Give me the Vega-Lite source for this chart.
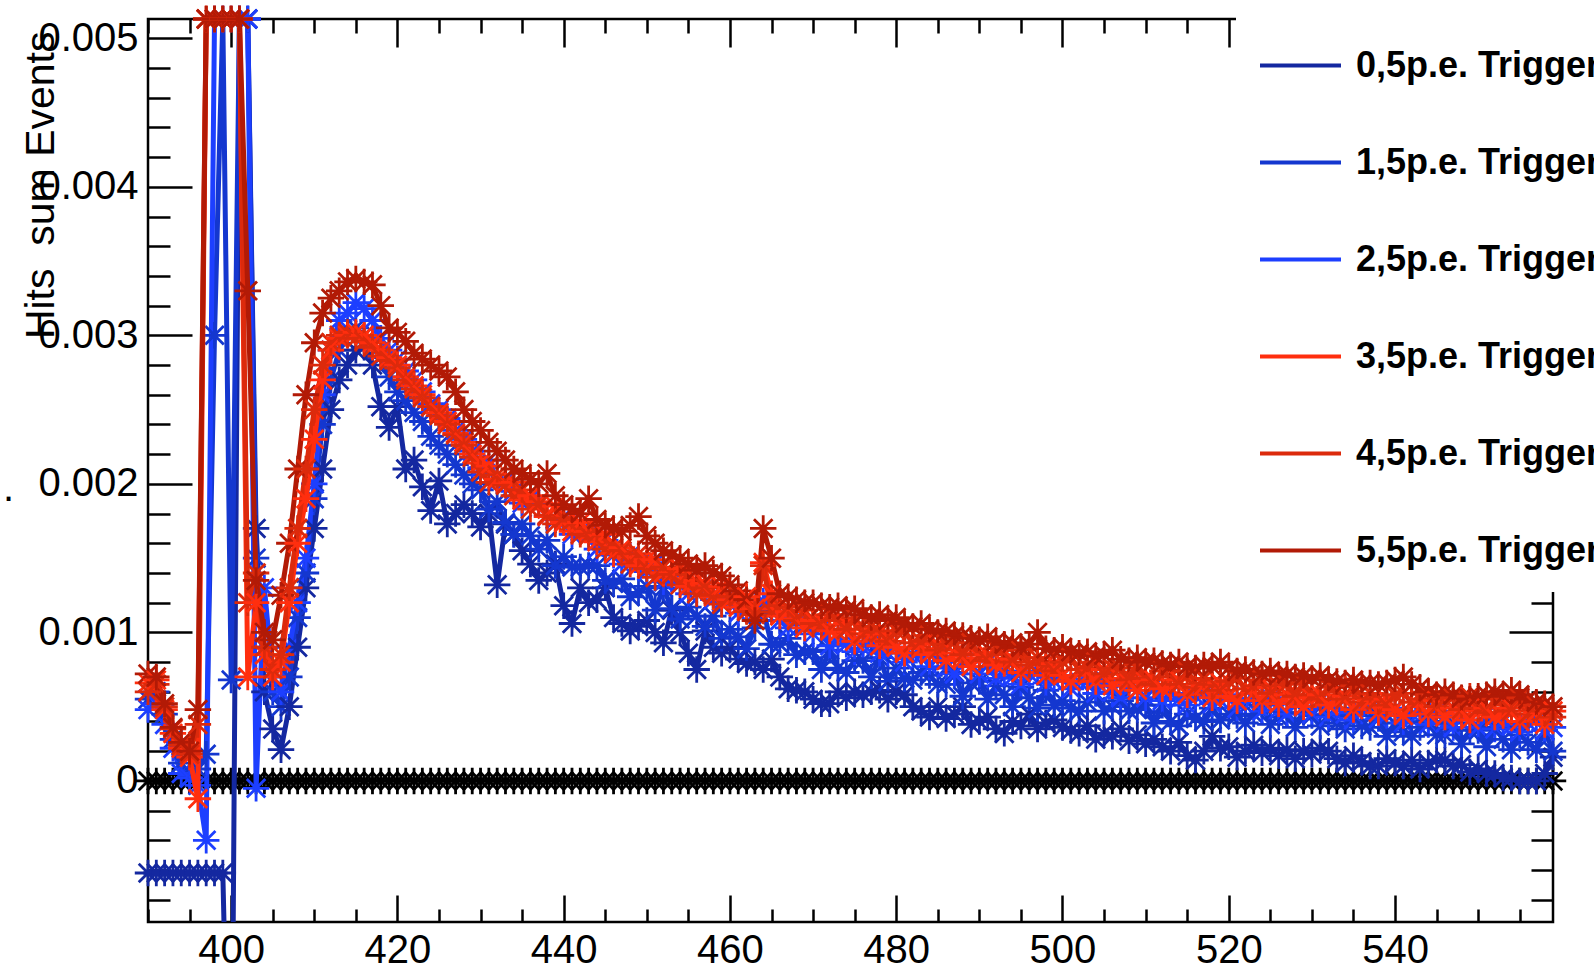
{
"$schema": "https://vega.github.io/schema/vega-lite/v6.json",
"width": 1405, "height": 903,
"autosize": {"type": "none"},
"padding": {"left": 148, "top": 19, "right": 41, "bottom": 47},
"background": "white",
"datasets": {
"names": [
{"k":"a","name":"0,5p.e. Trigger"},{"k":"b","name":"1,5p.e. Trigger"},{"k":"c","name":"2,5p.e. Trigger"},
{"k":"d","name":"3,5p.e. Trigger"},{"k":"e","name":"4,5p.e. Trigger"},{"k":"f","name":"5,5p.e. Trigger"}],
"rows": [
{"x":390,"a":-0.00062,"b":0.00055,"c":0.00048,"d":0.00066,"e":0.0006,"f":0.00072,"z":0},
{"x":391,"a":-0.00062,"b":0.0006,"c":0.00052,"d":0.00068,"e":0.00065,"f":0.0007,"z":0},
{"x":392,"a":-0.00062,"b":0.00045,"c":0.00038,"d":0.00048,"e":0.0005,"f":0.00052,"z":0},
{"x":393,"a":-0.00062,"b":0.00028,"c":0.00022,"d":0.00032,"e":0.00035,"f":0.00036,"z":0},
{"x":394,"a":-0.00062,"b":0.00012,"c":0.00005,"d":0.00022,"e":0.00024,"f":0.00026,"z":0},
{"x":395,"a":-0.00062,"b":0.00002,"c":0.00002,"d":0.00016,"e":0.00018,"f":0.0002,"z":0},
{"x":396,"a":-0.00062,"b":0.00008,"c":-0.00003,"d":-0.00012,"e":0.00038,"f":0.00048,"z":0},
{"x":397,"a":-0.00062,"b":0.00018,"c":-0.0004,"d":0.00513,"e":0.00513,"f":0.00513,"z":0},
{"x":398,"a":-0.00062,"b":0.003,"c":0.00513,"d":0.00513,"e":0.00513,"f":0.00513,"z":0},
{"x":399,"a":-0.00062,"b":0.00513,"c":0.00513,"d":0.00513,"e":0.00513,"f":0.00513,"z":0},
{"x":400,"a":-0.003,"b":0.00068,"c":0.00513,"d":0.00513,"e":0.00513,"f":0.00513,"z":0},
{"x":401,"a":0.00513,"b":0.00513,"c":0.00513,"d":0.00513,"e":0.00513,"f":0.00513,"z":0},
{"x":402,"a":0.00513,"b":0.00513,"c":0.00513,"d":0.0007,"e":0.0012,"f":0.0033,"z":0},
{"x":403,"a":0.0017,"b":0.0015,"c":-0.00005,"d":0.0012,"e":0.0014,"f":0.00135,"z":0},
{"x":404,"a":0.0006,"b":0.0009,"c":0.0013,"d":0.00085,"e":0.0009,"f":0.001,"z":0},
{"x":405,"a":0.00035,"b":0.0006,"c":0.0007,"d":0.0007,"e":0.00075,"f":0.00095,"z":0},
{"x":406,"a":0.00021,"b":0.0005,"c":0.0006,"d":0.0008,"e":0.00085,"f":0.00125,"z":0},
{"x":407,"a":0.0005,"b":0.0007,"c":0.0009,"d":0.0012,"e":0.0013,"f":0.0016,"z":0},
{"x":408,"a":0.0009,"b":0.0011,"c":0.0012,"d":0.0016,"e":0.0017,"f":0.0021,"z":0},
{"x":409,"a":0.0013,"b":0.0014,"c":0.0015,"d":0.0019,"e":0.0021,"f":0.0026,"z":0},
{"x":410,"a":0.0017,"b":0.0019,"c":0.002,"d":0.0023,"e":0.0025,"f":0.00295,"z":0},
{"x":411,"a":0.0021,"b":0.0024,"c":0.0026,"d":0.0027,"e":0.0028,"f":0.00315,"z":0},
{"x":412,"a":0.0025,"b":0.0027,"c":0.0029,"d":0.0029,"e":0.00295,"f":0.00325,"z":0},
{"x":413,"a":0.0027,"b":0.0029,"c":0.0031,"d":0.00298,"e":0.003,"f":0.0033,"z":0},
{"x":414,"a":0.0028,"b":0.003,"c":0.00315,"d":0.003,"e":0.00302,"f":0.00336,"z":0},
{"x":415,"a":0.0029,"b":0.00305,"c":0.00322,"d":0.00302,"e":0.00298,"f":0.00338,"z":0},
{"x":416,"a":0.00292,"b":0.003,"c":0.00318,"d":0.003,"e":0.00296,"f":0.00336,"z":0},
{"x":417,"a":0.0028,"b":0.00292,"c":0.0031,"d":0.00295,"e":0.00292,"f":0.00334,"z":0},
{"x":418,"a":0.00252,"b":0.00285,"c":0.00298,"d":0.0029,"e":0.00286,"f":0.0032,"z":0},
{"x":419,"a":0.00238,"b":0.00272,"c":0.0029,"d":0.00285,"e":0.00283,"f":0.00305,"z":0},
{"x":420,"a":0.00252,"b":0.00262,"c":0.00284,"d":0.0028,"e":0.00278,"f":0.00302,"z":0},
{"x":421,"a":0.0021,"b":0.00256,"c":0.00276,"d":0.00272,"e":0.0027,"f":0.00296,"z":0},
{"x":422,"a":0.00216,"b":0.00248,"c":0.0027,"d":0.00266,"e":0.00264,"f":0.00288,"z":0},
{"x":423,"a":0.00198,"b":0.00242,"c":0.00262,"d":0.0026,"e":0.00258,"f":0.00284,"z":0},
{"x":424,"a":0.00182,"b":0.00232,"c":0.00254,"d":0.00252,"e":0.00252,"f":0.0028,"z":0},
{"x":425,"a":0.00202,"b":0.00226,"c":0.0025,"d":0.00248,"e":0.00246,"f":0.00276,"z":0},
{"x":426,"a":0.00173,"b":0.0022,"c":0.00244,"d":0.00242,"e":0.0024,"f":0.00272,"z":0},
{"x":427,"a":0.0018,"b":0.00213,"c":0.00236,"d":0.00234,"e":0.00233,"f":0.00262,"z":0},
{"x":428,"a":0.00186,"b":0.00206,"c":0.0023,"d":0.00228,"e":0.00226,"f":0.0025,"z":0},
{"x":429,"a":0.0018,"b":0.002,"c":0.00222,"d":0.0022,"e":0.00218,"f":0.00242,"z":0},
{"x":430,"a":0.00171,"b":0.00196,"c":0.00211,"d":0.00214,"e":0.00208,"f":0.00236,"z":0},
{"x":431,"a":0.0018,"b":0.00183,"c":0.00216,"d":0.00212,"e":0.00201,"f":0.00228,"z":0},
{"x":432,"a":0.00132,"b":0.00188,"c":0.00202,"d":0.00203,"e":0.00206,"f":0.00222,"z":0},
{"x":433,"a":0.00173,"b":0.00174,"c":0.00202,"d":0.002,"e":0.00199,"f":0.00216,"z":0},
{"x":434,"a":0.00166,"b":0.00166,"c":0.00195,"d":0.00201,"e":0.00192,"f":0.0021,"z":0},
{"x":435,"a":0.00155,"b":0.00173,"c":0.00187,"d":0.00189,"e":0.00196,"f":0.00207,"z":0},
{"x":436,"a":0.00146,"b":0.00165,"c":0.0019,"d":0.00192,"e":0.00183,"f":0.00203,"z":0},
{"x":437,"a":0.00135,"b":0.00156,"c":0.00187,"d":0.00188,"e":0.00186,"f":0.002,"z":0},
{"x":438,"a":0.0014,"b":0.00162,"c":0.00178,"d":0.00178,"e":0.00179,"f":0.00207,"z":0},
{"x":439,"a":0.00146,"b":0.00145,"c":0.00176,"d":0.00185,"e":0.00173,"f":0.00192,"z":0},
{"x":440,"a":0.00118,"b":0.00151,"c":0.00178,"d":0.00174,"e":0.00177,"f":0.00186,"z":0},
{"x":441,"a":0.00106,"b":0.00144,"c":0.00166,"d":0.00168,"e":0.00175,"f":0.00183,"z":0},
{"x":442,"a":0.0013,"b":0.00144,"c":0.00168,"d":0.00174,"e":0.00166,"f":0.0018,"z":0},
{"x":443,"a":0.0012,"b":0.00145,"c":0.00166,"d":0.00168,"e":0.00165,"f":0.0019,"z":0},
{"x":444,"a":0.00122,"b":0.00145,"c":0.00156,"d":0.00161,"e":0.00167,"f":0.00176,"z":0},
{"x":445,"a":0.0013,"b":0.00135,"c":0.00162,"d":0.00166,"e":0.00156,"f":0.00172,"z":0},
{"x":446,"a":0.0011,"b":0.00133,"c":0.00152,"d":0.00153,"e":0.00157,"f":0.0017,"z":0},
{"x":447,"a":0.00106,"b":0.00136,"c":0.00146,"d":0.00157,"e":0.00155,"f":0.00168,"z":0},
{"x":448,"a":0.00101,"b":0.00124,"c":0.00152,"d":0.00151,"e":0.00146,"f":0.00172,"z":0},
{"x":449,"a":0.00104,"b":0.00127,"c":0.00147,"d":0.00145,"e":0.00153,"f":0.00178,"z":0},
{"x":450,"a":0.00108,"b":0.00131,"c":0.00141,"d":0.00149,"e":0.00143,"f":0.00165,"z":0},
{"x":451,"a":0.001,"b":0.00115,"c":0.00147,"d":0.00149,"e":0.00137,"f":0.0016,"z":0},
{"x":452,"a":0.00093,"b":0.0013,"c":0.00134,"d":0.0014,"e":0.00144,"f":0.00155,"z":0},
{"x":453,"a":0.00115,"b":0.00116,"c":0.00138,"d":0.0014,"e":0.00139,"f":0.00152,"z":0},
{"x":454,"a":0.001,"b":0.00109,"c":0.00133,"d":0.00143,"e":0.00132,"f":0.0015,"z":0},
{"x":455,"a":0.00086,"b":0.00117,"c":0.00126,"d":0.00131,"e":0.00139,"f":0.00146,"z":0},
{"x":456,"a":0.00075,"b":0.00111,"c":0.0013,"d":0.00135,"e":0.00126,"f":0.00142,"z":0},
{"x":457,"a":0.00101,"b":0.00104,"c":0.0013,"d":0.00133,"e":0.0013,"f":0.00145,"z":0},
{"x":458,"a":0.0009,"b":0.00111,"c":0.00122,"d":0.00124,"e":0.00125,"f":0.0014,"z":0},
{"x":459,"a":0.00086,"b":0.00096,"c":0.00121,"d":0.00131,"e":0.00119,"f":0.00138,"z":0},
{"x":460,"a":0.0009,"b":0.00102,"c":0.00124,"d":0.00122,"e":0.00124,"f":0.00132,"z":0},
{"x":461,"a":0.00082,"b":0.00097,"c":0.00113,"d":0.00117,"e":0.00124,"f":0.00128,"z":0},
{"x":462,"a":0.00079,"b":0.00089,"c":0.00116,"d":0.00124,"e":0.00114,"f":0.00122,"z":0},
{"x":463,"a":0.0008,"b":0.00103,"c":0.00113,"d":0.00116,"e":0.00112,"f":0.00108,"z":0},
{"x":464,"a":0.00075,"b":0.00115,"c":0.00121,"d":0.00147,"e":0.00145,"f":0.0017,"z":0},
{"x":465,"a":0.00082,"b":0.00092,"c":0.0012,"d":0.00126,"e":0.00114,"f":0.0015,"z":0},
{"x":466,"a":0.0007,"b":0.00092,"c":0.00108,"d":0.00111,"e":0.00118,"f":0.00126,"z":0},
{"x":467,"a":0.00062,"b":0.00096,"c":0.00103,"d":0.00114,"e":0.00117,"f":0.00124,"z":0},
{"x":468,"a":0.00061,"b":0.00085,"c":0.0011,"d":0.00109,"e":0.00108,"f":0.00122,"z":0},
{"x":469,"a":0.0006,"b":0.00087,"c":0.00105,"d":0.00103,"e":0.00115,"f":0.0012,"z":0},
{"x":470,"a":0.00055,"b":0.00087,"c":0.00099,"d":0.00108,"e":0.00106,"f":0.0012,"z":0},
{"x":471,"a":0.00052,"b":0.00075,"c":0.00103,"d":0.00108,"e":0.00105,"f":0.00118,"z":0},
{"x":472,"a":0.00052,"b":0.00088,"c":0.00091,"d":0.00101,"e":0.00112,"f":0.00117,"z":0},
{"x":473,"a":0.0006,"b":0.00076,"c":0.00096,"d":0.001,"e":0.00108,"f":0.00118,"z":0},
{"x":474,"a":0.00056,"b":0.00073,"c":0.00092,"d":0.00106,"e":0.00102,"f":0.00115,"z":0},
{"x":475,"a":0.0006,"b":0.00081,"c":0.00087,"d":0.00094,"e":0.0011,"f":0.00116,"z":0},
{"x":476,"a":0.00058,"b":0.00081,"c":0.00092,"d":0.00099,"e":0.00099,"f":0.00112,"z":0},
{"x":477,"a":0.0006,"b":0.0007,"c":0.00092,"d":0.00099,"e":0.00104,"f":0.0011,"z":0},
{"x":478,"a":0.00061,"b":0.00083,"c":0.00086,"d":0.00091,"e":0.001,"f":0.00112,"z":0},
{"x":479,"a":0.00055,"b":0.00067,"c":0.00086,"d":0.00099,"e":0.00094,"f":0.00108,"z":0},
{"x":480,"a":0.0006,"b":0.00076,"c":0.0009,"d":0.0009,"e":0.00101,"f":0.0011,"z":0},
{"x":481,"a":0.00058,"b":0.00069,"c":0.0008,"d":0.00086,"e":0.00101,"f":0.00106,"z":0},
{"x":482,"a":0.0005,"b":0.00068,"c":0.00085,"d":0.00093,"e":0.00093,"f":0.00104,"z":0},
{"x":483,"a":0.00047,"b":0.00073,"c":0.00085,"d":0.00089,"e":0.00094,"f":0.00106,"z":0},
{"x":484,"a":0.00043,"b":0.00071,"c":0.00077,"d":0.00085,"e":0.00098,"f":0.00102,"z":0},
{"x":485,"a":0.0005,"b":0.00065,"c":0.00084,"d":0.00092,"e":0.00088,"f":0.001,"z":0},
{"x":486,"a":0.00042,"b":0.00065,"c":0.00076,"d":0.00081,"e":0.00092,"f":0.00101,"z":0},
{"x":487,"a":0.00045,"b":0.00073,"c":0.00072,"d":0.00086,"e":0.00093,"f":0.00098,"z":0},
{"x":488,"a":0.0005,"b":0.00057,"c":0.00081,"d":0.00082,"e":0.00085,"f":0.00098,"z":0},
{"x":489,"a":0.00038,"b":0.00066,"c":0.00077,"d":0.00077,"e":0.00093,"f":0.00096,"z":0},
{"x":490,"a":0.0004,"b":0.00067,"c":0.00072,"d":0.00083,"e":0.00085,"f":0.00095,"z":0},
{"x":491,"a":0.00043,"b":0.00055,"c":0.0008,"d":0.00085,"e":0.00081,"f":0.00097,"z":0},
{"x":492,"a":0.00035,"b":0.00064,"c":0.00069,"d":0.00078,"e":0.00089,"f":0.00094,"z":0},
{"x":493,"a":0.00032,"b":0.00058,"c":0.00074,"d":0.00079,"e":0.00085,"f":0.00092,"z":0},
{"x":494,"a":0.0004,"b":0.0005,"c":0.0007,"d":0.00082,"e":0.0008,"f":0.00093,"z":0},
{"x":495,"a":0.00037,"b":0.00063,"c":0.00065,"d":0.00073,"e":0.00088,"f":0.0009,"z":0},
{"x":496,"a":0.00045,"b":0.00056,"c":0.00072,"d":0.00078,"e":0.00078,"f":0.00092,"z":0},
{"x":497,"a":0.00035,"b":0.00049,"c":0.00073,"d":0.00083,"e":0.00083,"f":0.001,"z":0},
{"x":498,"a":0.00039,"b":0.00061,"c":0.00066,"d":0.00071,"e":0.00079,"f":0.00089,"z":0},
{"x":499,"a":0.00041,"b":0.00051,"c":0.00067,"d":0.00079,"e":0.00074,"f":0.00088,"z":0},
{"x":500,"a":0.00036,"b":0.00054,"c":0.00071,"d":0.00071,"e":0.0008,"f":0.0009,"z":0},
{"x":501,"a":0.00034,"b":0.00049,"c":0.00062,"d":0.00067,"e":0.00083,"f":0.00087,"z":0},
{"x":502,"a":0.00032,"b":0.00047,"c":0.00067,"d":0.00075,"e":0.00075,"f":0.00086,"z":0},
{"x":503,"a":0.00037,"b":0.00053,"c":0.00067,"d":0.00071,"e":0.00076,"f":0.00087,"z":0},
{"x":504,"a":0.00028,"b":0.00059,"c":0.00059,"d":0.00067,"e":0.0008,"f":0.00084,"z":0},
{"x":505,"a":0.00032,"b":0.00047,"c":0.00068,"d":0.00075,"e":0.00072,"f":0.00085,"z":0},
{"x":506,"a":0.0003,"b":0.0005,"c":0.0006,"d":0.00064,"e":0.00076,"f":0.00088,"z":0},
{"x":507,"a":0.00035,"b":0.00054,"c":0.00056,"d":0.00069,"e":0.00076,"f":0.00082,"z":0},
{"x":508,"a":0.00027,"b":0.00047,"c":0.00064,"d":0.00066,"e":0.00068,"f":0.00081,"z":0},
{"x":509,"a":0.00031,"b":0.00048,"c":0.00061,"d":0.00061,"e":0.00078,"f":0.00083,"z":0},
{"x":510,"a":0.00025,"b":0.00051,"c":0.00056,"d":0.00067,"e":0.00069,"f":0.0008,"z":0},
{"x":511,"a":0.00028,"b":0.00039,"c":0.00064,"d":0.00068,"e":0.00065,"f":0.00081,"z":0},
{"x":512,"a":0.00023,"b":0.00051,"c":0.00054,"d":0.00062,"e":0.00074,"f":0.00079,"z":0},
{"x":513,"a":0.0002,"b":0.0004,"c":0.00059,"d":0.00063,"e":0.0007,"f":0.00078,"z":0},
{"x":514,"a":0.00026,"b":0.00037,"c":0.00055,"d":0.00068,"e":0.00065,"f":0.0008,"z":0},
{"x":515,"a":0.00017,"b":0.00045,"c":0.00051,"d":0.00058,"e":0.00074,"f":0.00077,"z":0},
{"x":516,"a":0.00014,"b":0.00042,"c":0.00057,"d":0.00063,"e":0.00063,"f":0.00076,"z":0},
{"x":517,"a":0.0002,"b":0.0004,"c":0.00059,"d":0.00064,"e":0.00069,"f":0.00078,"z":0},
{"x":518,"a":0.0003,"b":0.00049,"c":0.00052,"d":0.00056,"e":0.00065,"f":0.00077,"z":0},
{"x":519,"a":0.00022,"b":0.00041,"c":0.00054,"d":0.00066,"e":0.00061,"f":0.0008,"z":0},
{"x":520,"a":0.00023,"b":0.00045,"c":0.00058,"d":0.00057,"e":0.00067,"f":0.00076,"z":0},
{"x":521,"a":0.00016,"b":0.00044,"c":0.00049,"d":0.00054,"e":0.00069,"f":0.00074,"z":0},
{"x":522,"a":0.0002,"b":0.00039,"c":0.00054,"d":0.00062,"e":0.00062,"f":0.00075,"z":0},
{"x":523,"a":0.00024,"b":0.00045,"c":0.00055,"d":0.00059,"e":0.00064,"f":0.00073,"z":0},
{"x":524,"a":0.00019,"b":0.00051,"c":0.00047,"d":0.00054,"e":0.00068,"f":0.00072,"z":0},
{"x":525,"a":0.00022,"b":0.00038,"c":0.00056,"d":0.00063,"e":0.00059,"f":0.00074,"z":0},
{"x":526,"a":0.00017,"b":0.00043,"c":0.00048,"d":0.00052,"e":0.00064,"f":0.00071,"z":0},
{"x":527,"a":0.00021,"b":0.00046,"c":0.00045,"d":0.00058,"e":0.00065,"f":0.00072,"z":0},
{"x":528,"a":0.00015,"b":0.00036,"c":0.00053,"d":0.00054,"e":0.00057,"f":0.0007,"z":0},
{"x":529,"a":0.0002,"b":0.00046,"c":0.0005,"d":0.0005,"e":0.00066,"f":0.00071,"z":0},
{"x":530,"a":0.00018,"b":0.00044,"c":0.00045,"d":0.00056,"e":0.00058,"f":0.00069,"z":0},
{"x":531,"a":0.00022,"b":0.00037,"c":0.00054,"d":0.00058,"e":0.00055,"f":0.00071,"z":0},
{"x":532,"a":0.0002,"b":0.00044,"c":0.00043,"d":0.00051,"e":0.00063,"f":0.00068,"z":0},
{"x":533,"a":0.00015,"b":0.00039,"c":0.00049,"d":0.00053,"e":0.0006,"f":0.00067,"z":0},
{"x":534,"a":0.00012,"b":0.00035,"c":0.00045,"d":0.00057,"e":0.00055,"f":0.00066,"z":0},
{"x":535,"a":0.00017,"b":0.00044,"c":0.00041,"d":0.00048,"e":0.00064,"f":0.00068,"z":0},
{"x":536,"a":0.00013,"b":0.00037,"c":0.00047,"d":0.00053,"e":0.00053,"f":0.00065,"z":0},
{"x":537,"a":0.0001,"b":0.00036,"c":0.00049,"d":0.00054,"e":0.00059,"f":0.00066,"z":0},
{"x":538,"a":0.0001,"b":0.00044,"c":0.00042,"d":0.00046,"e":0.00055,"f":0.00065,"z":0},
{"x":539,"a":0.00015,"b":0.0003,"c":0.00044,"d":0.00055,"e":0.00051,"f":0.00066,"z":0},
{"x":540,"a":0.00012,"b":0.00039,"c":0.00049,"d":0.00048,"e":0.00058,"f":0.00068,"z":0},
{"x":541,"a":0.0001,"b":0.00033,"c":0.00039,"d":0.00044,"e":0.00059,"f":0.0007,"z":0},
{"x":542,"a":0.00014,"b":0.0003,"c":0.00045,"d":0.00053,"e":0.00053,"f":0.00065,"z":0},
{"x":543,"a":0.00008,"b":0.00036,"c":0.00046,"d":0.0005,"e":0.00055,"f":0.00063,"z":0},
{"x":544,"a":0.00012,"b":0.0004,"c":0.00038,"d":0.00045,"e":0.00059,"f":0.0006,"z":0},
{"x":545,"a":0.00014,"b":0.00031,"c":0.00047,"d":0.00054,"e":0.0005,"f":0.00058,"z":0},
{"x":546,"a":0.00014,"b":0.00031,"c":0.00039,"d":0.00043,"e":0.00055,"f":0.0006,"z":0},
{"x":547,"a":0.0001,"b":0.00039,"c":0.00036,"d":0.00049,"e":0.00056,"f":0.00058,"z":0},
{"x":548,"a":0.00011,"b":0.00025,"c":0.00044,"d":0.00045,"e":0.00048,"f":0.00056,"z":0},
{"x":549,"a":0.00006,"b":0.00034,"c":0.00041,"d":0.00041,"e":0.00057,"f":0.00055,"z":0},
{"x":550,"a":0.00008,"b":0.00034,"c":0.00036,"d":0.00047,"e":0.00049,"f":0.00057,"z":0},
{"x":551,"a":0.00005,"b":0.00023,"c":0.00045,"d":0.00049,"e":0.00046,"f":0.00058,"z":0},
{"x":552,"a":0.00005,"b":0.00036,"c":0.00035,"d":0.00043,"e":0.00055,"f":0.0006,"z":0},
{"x":553,"a":0.00002,"b":0.00028,"c":0.0004,"d":0.00044,"e":0.00051,"f":0.00057,"z":0},
{"x":554,"a":0.00002,"b":0.00021,"c":0.00037,"d":0.00049,"e":0.00047,"f":0.00061,"z":0},
{"x":555,"a":0,"b":0.00031,"c":0.00033,"d":0.0004,"e":0.00056,"f":0.00058,"z":0},
{"x":556,"a":0,"b":0.00026,"c":0.00039,"d":0.00045,"e":0.00045,"f":0.00055,"z":0},
{"x":557,"a":0,"b":0.00021,"c":0.00041,"d":0.00046,"e":0.00051,"f":0.00053,"z":0},
{"x":558,"a":0.00005,"b":0.00034,"c":0.00034,"d":0.00038,"e":0.00047,"f":0.00052,"z":0},
{"x":559,"a":0.00016,"b":0.0002,"c":0.00036,"d":0.00047,"e":0.00043,"f":0.0005,"z":0}
]},
"data": {"name": "rows"},
"layer": [
{
"mark": {"type": "line", "color": "black", "strokeWidth": 3, "clip": true},
"encoding": {
"x": {"field": "x", "type": "quantitative", "scale": {"domain": [390, 559], "nice": false, "zero": false},
 "axis": {"orient": "bottom", "values": [400,420,440,460,480,500,520,540], "ticks": false, "labelPadding": 8, "title": null}},
"y": {"field": "z", "type": "quantitative", "scale": {"domain": [-0.00095, 0.00513], "nice": false, "zero": false},
 "axis": {"orient": "left", "values": [0,0.001,0.002,0.003,0.004,0.005], "format": "~g", "ticks": false, "labelPadding": 10,
  "title": "Hits \u00a0sum Events", "titleFontSize": 41, "titleFontWeight": "normal", "titleFont": "Liberation Sans",
  "titleAngle": -90, "titleAlign": "right", "titleBaseline": "alphabetic", "titleX": -95, "titleY": 12}}
}},
{
"mark": {"type": "point", "shape": "M-1,0H1M0,-1V1M-0.7,-0.7L0.7,0.7M-0.7,0.7L0.7,-0.7", "filled": false, "color": "black", "size": 700, "strokeWidth": 2.8, "opacity": 1},
"encoding": {
"x": {"field": "x", "type": "quantitative", "scale": {"domain": [390, 559], "nice": false, "zero": false},
 "axis": {"orient": "bottom", "values": [400,420,440,460,480,500,520,540], "labels": false, "tickSize": -27, "title": null}},
"y": {"field": "z", "type": "quantitative", "scale": {"domain": [-0.00095, 0.00513], "nice": false, "zero": false},
 "axis": {"orient": "left", "values": [0,0.001,0.002,0.003,0.004,0.005], "labels": false, "tickSize": -44,
  "title": ".", "titleFontSize": 40, "titleFontWeight": "normal", "titleFont": "Liberation Sans", "titleAngle": 0,
  "titleAlign": "center", "titleBaseline": "alphabetic", "titleX": -140, "titleY": 481}}
}},
{
"transform": [{"fold": ["a","b","c","d","e","f"], "as": ["key","value"]},
 {"lookup": "key", "from": {"data": {"name": "names"}, "key": "k", "fields": ["name"]}},
 {"filter": {"field": "key", "oneOf": ["a","b","c"]}}],
"mark": {"type": "line", "strokeWidth": 5, "clip": true},
"encoding": {
"x": {"field": "x", "type": "quantitative", "scale": {"domain": [390, 559], "nice": false, "zero": false},
 "axis": {"orient": "bottom", "values": [390,395,405,410,415,425,430,435,445,450,455,465,470,475,485,490,495,505,510,515,525,530,535,545,550,555], "labels": false, "tickSize": -13, "title": null}},
"y": {"field": "value", "type": "quantitative", "scale": {"domain": [-0.00095, 0.00513], "nice": false, "zero": false},
 "axis": {"orient": "left", "values": [-0.0008,-0.0006,-0.0004,-0.0002,0.0002,0.0004,0.0006,0.0008,0.0012,0.0014,0.0016,0.0018,0.0022,0.0024,0.0026,0.0028,0.0032,0.0034,0.0036,0.0038,0.0042,0.0044,0.0046,0.0048], "labels": false, "tickSize": -22, "title": null}},
"color": {"field": "name", "type": "nominal",
 "scale": {"domain": ["0,5p.e. Trigger","1,5p.e. Trigger","2,5p.e. Trigger","3,5p.e. Trigger","4,5p.e. Trigger","5,5p.e. Trigger"],
  "range": ["#1428a0","#1437cf","#1d3fff","#ff2e0e","#dc2a0c","#b21a06"]},
 "legend": {"title": null, "symbolType": "stroke", "symbolStrokeWidth": 4, "zindex": 1}}
}},
{
"transform": [{"fold": ["a","b","c","d","e","f"], "as": ["key","value"]},
 {"lookup": "key", "from": {"data": {"name": "names"}, "key": "k", "fields": ["name"]}},
 {"filter": {"field": "key", "oneOf": ["a","b","c"]}}],
"mark": {"type": "point", "shape": "M-1,0H1M0,-1V1M-0.7,-0.7L0.7,0.7M-0.7,0.7L0.7,-0.7", "filled": false, "size": 700, "strokeWidth": 2.8, "opacity": 1},
"encoding": {
"x": {"field": "x", "type": "quantitative", "scale": {"domain": [390, 559], "nice": false, "zero": false},
 "axis": {"orient": "top", "values": [400,420,440,460,480,500,520,540], "labels": false, "tickSize": -28, "title": null}},
"y": {"field": "value", "type": "quantitative", "scale": {"domain": [-0.00095, 0.00513], "nice": false, "zero": false},
 "axis": {"orient": "right", "values": [0,0.001,0.002,0.003,0.004,0.005], "labels": false, "tickSize": -44, "title": null}},
"color": {"field": "name", "type": "nominal",
 "scale": {"domain": ["0,5p.e. Trigger","1,5p.e. Trigger","2,5p.e. Trigger","3,5p.e. Trigger","4,5p.e. Trigger","5,5p.e. Trigger"],
  "range": ["#1428a0","#1437cf","#1d3fff","#ff2e0e","#dc2a0c","#b21a06"]},
 "legend": {"title": null, "symbolType": "stroke", "symbolStrokeWidth": 4, "zindex": 1}}
}},
{
"transform": [{"fold": ["a","b","c","d","e","f"], "as": ["key","value"]},
 {"lookup": "key", "from": {"data": {"name": "names"}, "key": "k", "fields": ["name"]}},
 {"filter": {"field": "key", "oneOf": ["d","e","f"]}}],
"mark": {"type": "line", "strokeWidth": 5, "clip": true},
"encoding": {
"x": {"field": "x", "type": "quantitative", "scale": {"domain": [390, 559], "nice": false, "zero": false},
 "axis": {"orient": "top", "values": [390,395,405,410,415,425,430,435,445,450,455,465,470,475,485,490,495,505,510,515,525,530,535,545,550,555], "labels": false, "tickSize": -14, "title": null}},
"y": {"field": "value", "type": "quantitative", "scale": {"domain": [-0.00095, 0.00513], "nice": false, "zero": false},
 "axis": {"orient": "right", "values": [-0.0008,-0.0006,-0.0004,-0.0002,0.0002,0.0004,0.0006,0.0008,0.0012,0.0014,0.0016,0.0018,0.0022,0.0024,0.0026,0.0028,0.0032,0.0034,0.0036,0.0038,0.0042,0.0044,0.0046,0.0048], "labels": false, "tickSize": -22, "title": null}},
"color": {"field": "name", "type": "nominal",
 "scale": {"domain": ["0,5p.e. Trigger","1,5p.e. Trigger","2,5p.e. Trigger","3,5p.e. Trigger","4,5p.e. Trigger","5,5p.e. Trigger"],
  "range": ["#1428a0","#1437cf","#1d3fff","#ff2e0e","#dc2a0c","#b21a06"]},
 "legend": {"title": null, "symbolType": "stroke", "symbolStrokeWidth": 4, "zindex": 1}}
}},
{
"transform": [{"fold": ["a","b","c","d","e","f"], "as": ["key","value"]},
 {"lookup": "key", "from": {"data": {"name": "names"}, "key": "k", "fields": ["name"]}},
 {"filter": {"field": "key", "oneOf": ["d","e","f"]}}],
"mark": {"type": "point", "shape": "M-1,0H1M0,-1V1M-0.7,-0.7L0.7,0.7M-0.7,0.7L0.7,-0.7", "filled": false, "size": 700, "strokeWidth": 2.8, "opacity": 1},
"encoding": {
"x": {"field": "x", "type": "quantitative", "scale": {"domain": [390, 559], "nice": false, "zero": false}, "axis": null},
"y": {"field": "value", "type": "quantitative", "scale": {"domain": [-0.00095, 0.00513], "nice": false, "zero": false}, "axis": null},
"color": {"field": "name", "type": "nominal",
 "scale": {"domain": ["0,5p.e. Trigger","1,5p.e. Trigger","2,5p.e. Trigger","3,5p.e. Trigger","4,5p.e. Trigger","5,5p.e. Trigger"],
  "range": ["#1428a0","#1437cf","#1d3fff","#ff2e0e","#dc2a0c","#b21a06"]},
 "legend": {"title": null, "symbolType": "stroke", "symbolStrokeWidth": 4, "zindex": 1}}
}}
],
"resolve": {"axis": {"x": "independent", "y": "independent"}},
"config": {
"font": "Liberation Sans",
"view": {"stroke": "black", "strokeWidth": 2.5},
"axis": {"grid": false, "domain": false, "tickColor": "black", "tickWidth": 2.5, "labelColor": "black", "labelFont": "Liberation Sans", "labelFontSize": 40, "labelOverlap": false, "labelFlush": false, "titleColor": "black"},
"legend": {"orient": "none", "legendX": 1088, "legendY": -18, "direction": "vertical", "padding": 22, "fillColor": "white", "strokeColor": "white",
 "symbolType": "stroke", "symbolSize": 6561, "symbolStrokeWidth": 4, "labelFontSize": 36, "labelFontWeight": "bold", "labelFont": "Liberation Sans",
 "labelColor": "black", "labelOffset": 13, "rowPadding": 36, "labelLimit": 1000, "cornerRadius": 0}
}
}
